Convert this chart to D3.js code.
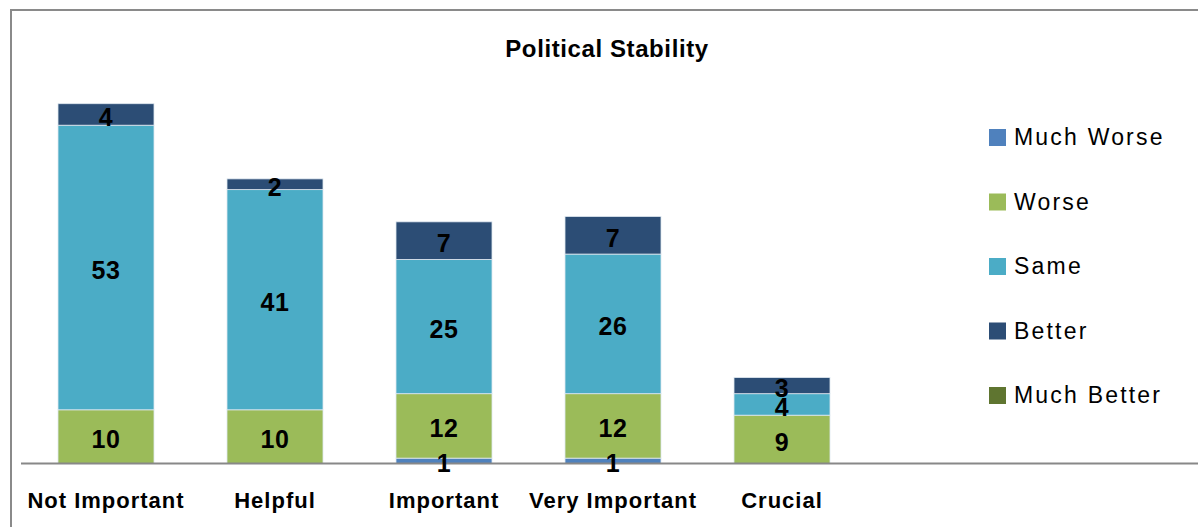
<!DOCTYPE html>
<html>
<head>
<meta charset="utf-8">
<script src="https://cdn.jsdelivr.net/npm/d3@7"></script>
<style>
  html, body { margin: 0; padding: 0; background: #fff; }
  svg { display: block; font-family: "Liberation Sans", Arial, Helvetica, sans-serif; }
</style>
</head>
<body>
<svg id="chart" width="1198" height="527"></svg>
<script>
// Responses by importance category, stacked from "Much Worse" upward
const categories = ["Not Important", "Helpful", "Important", "Very Important", "Crucial"];
const seriesNames = ["Much Worse", "Worse", "Same", "Better", "Much Better"];
const muchWorse  = [0, 0, 1, 1, 0];
const worse      = [10, 10, 12, 12, 9];
const same       = [53, 41, 25, 26, 4];
const better     = [4, 2, 7, 7, 3];
const muchBetter = [0, 0, 0, 0, 0];
const seriesColors = ["#4f81bd", "#9bbb59", "#4bacc6", "#2c4d75", "#5f7530"];
const title = "Political Stability";

const seriesValues = [muchWorse, worse, same, better, muchBetter];
const rows = categories.map((c, i) => {
  const r = { category: c };
  seriesNames.forEach((s, j) => { r[s] = seriesValues[j][i]; });
  return r;
});

const svg = d3.select("#chart");

// outer frame
svg.append("rect")
  .attr("x", 11).attr("y", 10)
  .attr("width", 1200).attr("height", 530)
  .attr("fill", "none")
  .attr("stroke", "#8a8a8a")
  .attr("stroke-width", 2);

const baseY = 463.5;
const x = d3.scaleBand()
  .domain(categories)
  .range([21.5, 866.5])
  .paddingInner(0.432)
  .paddingOuter(0.216);

const y = d3.scaleLinear()
  .domain([0, 70])
  .range([baseY, baseY - 70 * 5.37]);

const color = d3.scaleOrdinal().domain(seriesNames).range(seriesColors);

const stacked = d3.stack().keys(seriesNames)(rows);

const layers = svg.append("g").selectAll("g")
  .data(stacked)
  .join("g")
  .attr("fill", d => color(d.key));

layers.selectAll("rect")
  .data(d => d.filter(p => p[1] - p[0] > 0))
  .join("rect")
  .attr("x", d => x(d.data.category))
  .attr("width", x.bandwidth())
  .attr("y", d => y(d[1]))
  .attr("height", d => y(d[0]) - y(d[1]))
  .attr("stroke", "#dfe8f0")
  .attr("stroke-width", 0.8);

// baseline
svg.append("line")
  .attr("x1", 21).attr("x2", 1198)
  .attr("y1", baseY).attr("y2", baseY)
  .attr("stroke", "#888")
  .attr("stroke-width", 2);

// value labels centred in each segment
const labelG = svg.append("g");
stacked.forEach(layer => {
  layer.filter(p => p[1] - p[0] > 0).forEach(p => {
    labelG.append("text")
      .attr("x", x(p.data.category) + x.bandwidth() / 2)
      .attr("y", (y(p[0]) + y(p[1])) / 2)
      .attr("dy", "0.45em")
      .attr("text-anchor", "middle")
      .attr("font-size", 25)
      .attr("font-weight", "bold")
      .attr("letter-spacing", 0.5)
      .attr("fill", "#000")
      .text(p[1] - p[0]);
  });
});

// category axis
const xAxis = d3.axisBottom(x).tickSize(0).tickPadding(0);
const axisG = svg.append("g")
  .attr("transform", `translate(0,${baseY})`)
  .call(xAxis);
axisG.select(".domain").remove();
axisG.selectAll("text")
  .attr("y", 44)
  .attr("dy", 0)
  .attr("font-size", 22)
  .attr("font-weight", "bold")
  .attr("letter-spacing", 1)
  .attr("fill", "#000")
  .attr("font-family", "'Liberation Sans', Arial, sans-serif");

// title
svg.append("text")
  .attr("x", 607).attr("y", 57)
  .attr("text-anchor", "middle")
  .attr("font-size", 24)
  .attr("font-weight", "bold")
  .attr("letter-spacing", 0.6)
  .text(title);

// legend
const legend = svg.append("g").attr("transform", "translate(989,129)");
const item = legend.selectAll("g")
  .data(seriesNames)
  .join("g")
  .attr("transform", (d, i) => `translate(0,${i * 64.5})`);
item.append("rect")
  .attr("width", 17).attr("height", 17)
  .attr("fill", d => color(d));
item.append("text")
  .attr("x", 25).attr("y", 16)
  .attr("font-size", 23)
  .attr("letter-spacing", 2.2)
  .attr("fill", "#000")
  .text(d => d);
</script>
</body>
</html>
